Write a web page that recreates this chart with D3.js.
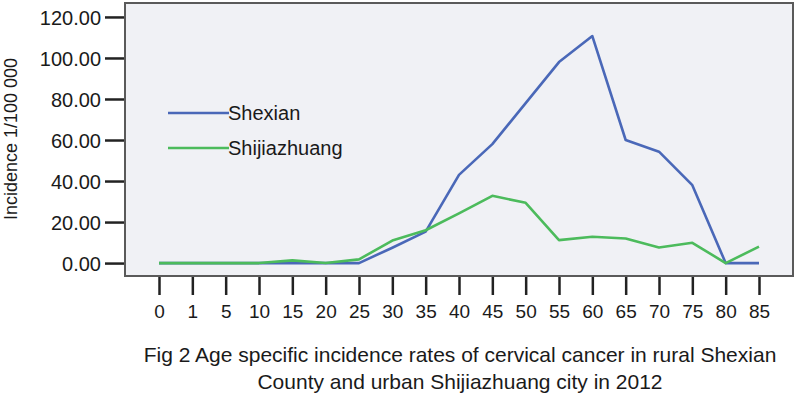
<!DOCTYPE html>
<html>
<head>
<meta charset="utf-8">
<script src="https://cdn.jsdelivr.net/npm/d3@7"></script>
<style>
  body { margin: 0; background: #fff; }
  svg { display: block; }
</style>
</head>
<body>
<svg id="chart"></svg>
<script>
// Age groups (x axis categories)
const ageGroups = ["0", "1", "5", "10", "15", "20", "25", "30", "35", "40", "45", "50", "55", "60", "65", "70", "75", "80", "85"];

// Incidence per 100 000
const shexian = [0, 0, 0, 0, 0, 0, 0, 7.5, 15.3, 43, 58, 78, 98, 110.7, 60, 54.3, 38, 0, 0];
const shijiazhuang = [0, 0, 0, 0, 1.3, 0, 1.8, 11, 16, 24.2, 32.8, 29.4, 11.2, 12.8, 12, 7.6, 9.9, 0, 8];

const yTicks = [0, 20, 40, 60, 80, 100, 120];
const seriesNames = ["Shexian", "Shijiazhuang"];

const width = 800;
const height = 397;
const plot = { left: 125, right: 793, top: 3, bottom: 276 };
const font = "Arial, 'Liberation Sans', sans-serif";

const svg = d3.select("#chart")
  .attr("width", width)
  .attr("height", height)
  .attr("viewBox", `0 0 ${width} ${height}`);

// --- scales ---
const x = d3.scalePoint()
  .domain(ageGroups)
  .range([plot.left, plot.right])
  .padding(1.02);

const y = d3.scaleLinear()
  .domain([-6.3, 126.8])
  .range([plot.bottom, plot.top]);

const colors = d3.scaleOrdinal()
  .domain(seriesNames)
  .range(["#4a68b8", "#4cbb5c"]);

// --- plot background + frame ---
svg.append("rect")
  .attr("x", plot.left)
  .attr("y", plot.top)
  .attr("width", plot.right - plot.left)
  .attr("height", plot.bottom - plot.top)
  .attr("fill", "#f0f1f5")
  .attr("stroke", "#5a5a5a")
  .attr("stroke-width", 2);

// --- y axis ---
const yAxis = svg.append("g")
  .attr("transform", `translate(${plot.left - 1},0)`)
  .call(d3.axisLeft(y).tickValues(yTicks).tickFormat(d3.format(".2f")).tickSize(19).tickPadding(4));
yAxis.select(".domain").remove();
yAxis.selectAll(".tick line").attr("stroke", "#222").attr("stroke-width", 2.5);
yAxis.selectAll(".tick text")
  .attr("fill", "#1a1a1a")
  .style("font-family", font)
  .style("font-size", "20px")
  .attr("dy", "0.36em");

// --- x axis (ticks hang below the frame) ---
const xAxis = svg.append("g")
  .attr("transform", `translate(0,${plot.bottom + 1})`)
  .call(d3.axisBottom(x).tickSize(18).tickPadding(10));
xAxis.select(".domain").remove();
xAxis.selectAll(".tick line").attr("stroke", "#222").attr("stroke-width", 2.5);
xAxis.selectAll(".tick text")
  .attr("fill", "#1a1a1a")
  .style("font-family", font)
  .style("font-size", "19px");

// --- y axis title ---
svg.append("text")
  .attr("transform", "translate(17,139) rotate(-90)")
  .attr("text-anchor", "middle")
  .style("font-family", font)
  .style("font-size", "18px")
  .attr("fill", "#1a1a1a")
  .text("Incidence 1/100 000");

// --- lines ---
const line = d3.line()
  .x((d, i) => x(ageGroups[i]))
  .y(d => y(d));

[shexian, shijiazhuang].forEach((values, k) => {
  svg.append("path")
    .datum(values)
    .attr("fill", "none")
    .attr("stroke", colors(seriesNames[k]))
    .attr("stroke-width", 2.6)
    .attr("stroke-linejoin", "round")
    .attr("d", line);
});

// --- legend ---
const legend = svg.append("g");
seriesNames.forEach((name, k) => {
  const ly = 113 + k * 35;
  legend.append("line")
    .attr("x1", 168).attr("x2", 229)
    .attr("y1", ly).attr("y2", ly)
    .attr("stroke", colors(name))
    .attr("stroke-width", 2.5);
  legend.append("text")
    .attr("x", 228)
    .attr("y", ly)
    .attr("dy", "0.35em")
    .style("font-family", font)
    .style("font-size", "20px")
    .attr("fill", "#1a1a1a")
    .text(name);
});

// --- caption ---
const caption = [
  "Fig 2 Age specific incidence rates of cervical cancer in rural Shexian",
  "County and urban Shijiazhuang city in 2012"
];
caption.forEach((t, i) => {
  svg.append("text")
    .attr("x", 460)
    .attr("y", 362 + i * 27)
    .attr("text-anchor", "middle")
    .style("font-family", font)
    .style("font-size", "21px")
    .attr("fill", "#1a1a1a")
    .text(t);
});
</script>
</body>
</html>
